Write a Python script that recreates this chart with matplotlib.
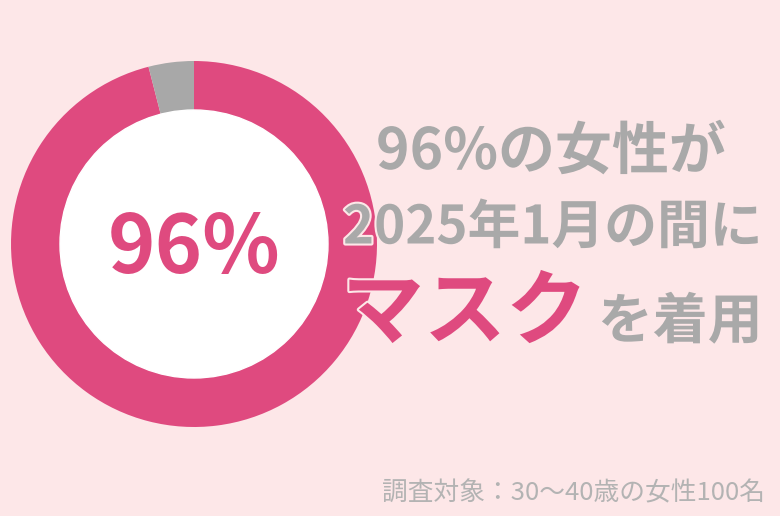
import matplotlib.pyplot as plt
import matplotlib.patheffects as pe
from matplotlib.patches import Circle

plt.rcParams['font.family'] = ['Noto Sans CJK JP', 'DejaVu Sans']

# data
labels = ['着用した', '着用しなかった']
values = [96, 4]
colors = ['#df4a7f', '#a8a8a8']
headline = '96%'
line1 = '96%の女性が'
line2 = '2025年1月の間に'
key_word = 'マスク'
tail = 'を着用'
note = '調査対象：30〜40歳の女性100名'

W, H = 780, 516
bg = '#fde7e8'
gray = '#a9a9a9'
pink = '#df4a7f'

fig = plt.figure(figsize=(W / 100, H / 100), dpi=100, facecolor=bg)
ax = fig.add_axes([0, 0, 1, 1])
ax.set_facecolor(bg)

cx, cy = 194, H - 244
ax.pie(values, colors=colors, startangle=90, counterclock=False,
       radius=183, center=(cx, cy),
       wedgeprops=dict(width=50, linewidth=0))
ax.add_patch(Circle((cx, cy), 134, color='white', zorder=3))
ax.set_xlim(0, W)
ax.set_ylim(0, H)
ax.set_aspect('auto')
ax.axis('off')

ax.text(cx, H - 250, headline, color=pink, fontsize=58, fontweight='bold',
        ha='center', va='center', zorder=4)

stroke = [pe.withStroke(linewidth=3, foreground=bg)]
ax.text(376, H - 152, line1, color=gray, fontsize=41, fontweight='bold',
        ha='left', va='center', path_effects=stroke, zorder=5)
ax.text(343, H - 228, line2, color=gray, fontsize=38, fontweight='bold',
        ha='left', va='center', path_effects=stroke, zorder=5)
ax.text(342, H - 314, key_word, color=pink, fontsize=59, fontweight='bold',
        ha='left', va='center', path_effects=stroke, zorder=5)
ax.text(598, H - 322, tail, color=gray, fontsize=39.5, fontweight='bold',
        ha='left', va='center', path_effects=stroke, zorder=5)

ax.text(765, H - 493, note, color='#b3b3b3', fontsize=18.5,
        ha='right', va='center', zorder=5)

fig.savefig('out.png', dpi=100, facecolor=bg)
